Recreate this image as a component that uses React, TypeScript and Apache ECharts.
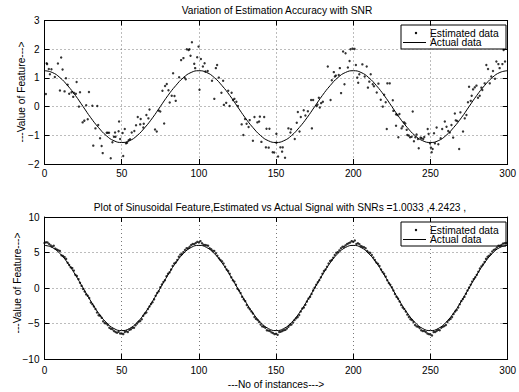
import React, { useEffect, useRef } from 'react';
import * as echarts from 'echarts';

const X_MIN = 0;
const X_MAX = 300;
const X_STEP = 50;
const TOP_Y_MIN = -2;
const TOP_Y_MAX = 3;
const TOP_Y_STEP = 1;
const BOT_Y_MIN = -10;
const BOT_Y_MAX = 10;
const BOT_Y_STEP = 5;

const TOP_TITLE = 'Variation of Estimation Accuracy with SNR';
const BOT_TITLE = 'Plot of Sinusoidal Feature,Estimated vs Actual Signal with SNRs =1.0033 ,4.2423 ,';
const Y_NAME = '---Value of Feature--->';
const X_NAME = '---No of instances--->';
const LEGEND_NAMES = ['Estimated data', 'Actual data'];

// actual signal sampled every 5 instances
const ACTUAL_STEP = 5;
const TOP_ACTUAL = [
  1.25, 1.19, 1.01, 0.73, 0.39, 0, -0.39, -0.73, -1.01, -1.19, -1.25, -1.19, -1.01, -0.73, -0.39, 0, 0.39, 0.73, 1.01, 1.19,
  1.25, 1.19, 1.01, 0.73, 0.39, 0, -0.39, -0.73, -1.01, -1.19, -1.25, -1.19, -1.01, -0.73, -0.39, 0, 0.39, 0.73, 1.01, 1.19,
  1.25, 1.19, 1.01, 0.73, 0.39, 0, -0.39, -0.73, -1.01, -1.19, -1.25, -1.19, -1.01, -0.73, -0.39, 0, 0.39, 0.73, 1.01, 1.19,
  1.25,
];
const BOT_ACTUAL = [
  6, 5.71, 4.85, 3.53, 1.85, 0, -1.85, -3.53, -4.85, -5.71, -6, -5.71, -4.85, -3.53, -1.85, 0, 1.85, 3.53, 4.85, 5.71,
  6, 5.71, 4.85, 3.53, 1.85, 0, -1.85, -3.53, -4.85, -5.71, -6, -5.71, -4.85, -3.53, -1.85, 0, 1.85, 3.53, 4.85, 5.71,
  6, 5.71, 4.85, 3.53, 1.85, 0, -1.85, -3.53, -4.85, -5.71, -6, -5.71, -4.85, -3.53, -1.85, 0, 1.85, 3.53, 4.85, 5.71,
  6,
];

// estimated data, top panel (instance, value)
const TOP_ESTIMATED = [
  [0.9, 0.44], [1.4, 1.51], [1.7, 1.48], [2.8, 1.31], [3.5, 1.13], [4.5, 1.3], [6.7, 1.03], [8.7, 1.5], [10, 0.56],
  [10.8, 1.71], [11.7, 1.29], [13, 0.53], [13.9, 0.99], [15, 0.76], [16, 0.45], [17.5, 0.5], [18.6, 0.34], [19, 0.48],
  [20.3, 0.45], [20.8, 0.86], [22.3, 0], [23, 0.5], [24.7, -0.55], [25.8, -0.49], [27, 0.05], [28, -0.44], [28.8, 0.51],
  [31, 0.03], [31.6, -1.36], [33, -0.76], [34.2, 0.02], [34.8, -0.64], [36, -1.1], [37, -1.37], [37.7, -1.62],
  [40.3, -0.91], [41, -0.91], [41.8, -0.91], [42.9, -1.8], [44, -1.24], [45, -1.05], [45.7, -0.9], [46, -1.05],
  [48, -0.86], [48.3, -0.52], [49, -1.13], [50.6, -0.92], [51, -1.72], [52, -0.78], [52.8, -1.28], [53.5, -1.26],
  [54.5, -1.17], [55.4, -1.14], [56.5, -0.9], [58.2, -0.85], [59.3, -0.65], [60.4, -0.36], [62, -0.62], [62.3, -0.43],
  [64, -0.73], [64.3, -0.6], [66, -0.29], [67.3, -0.41], [68, -0.1], [71.6, -0.8], [72.7, -0.87], [74, -0.14],
  [75, -0.17], [76.4, 0.55], [77.5, -0.59], [78.1, 0.72], [79.2, 0.79], [80.3, 0.57], [81.1, 0.14], [82.4, 0.38],
  [83.3, 1.16], [84.2, 0.37], [85, 0.2], [87.2, 1.02], [88.5, 1.62], [90, 1.69], [90.7, 1.01], [91.5, 0.95],
  [92.2, 2.0], [93.3, 1.97], [93.9, 2.0], [94.6, 1.77], [95.5, 2.24], [97, 1.49], [97.6, 1.34], [98.9, 1.72],
  [99.8, 2.09], [100.4, 0.59], [101.3, 1.66], [102.6, 1.4], [103.7, 1.51], [104.2, 1.22], [105.7, 1.24], [108.5, 0.9],
  [110, 0.27], [111, 1.34], [111.8, 1.45], [112.9, 1.01], [114.6, 0.48], [115.7, 0.9], [116.2, 0.06], [117.7, 0.13],
  [119, 0.55], [119.9, 0.02], [121.2, 0.48], [122.1, 0.23], [123, 0.27], [124.3, 0.17], [125.3, 0.02], [127.7, -0.62],
  [128.8, -0.99], [129.9, -0.43], [130.9, -0.6], [132.2, -0.71], [132.9, -0.47], [135, -1.19], [136, -0.36],
  [137.9, -0.55], [139, -0.52], [139.5, -0.35], [140.5, -1.23], [142.3, -0.36], [143.4, -1.42], [143.8, -0.77],
  [145.2, -1.43], [145.7, -0.77], [147.8, -1.59], [148.8, -1.6], [150.2, -1.26], [150.2, -0.95], [151.3, -1.74],
  [152.8, -1.42], [153.9, -1.57], [154.3, -1.42], [155.8, -1.78], [158, -0.76], [159.3, -0.9], [159.7, -0.79],
  [162.1, -1.13], [163.4, -0.56], [164.1, -0.19], [165.2, -0.87], [166, -0.36], [167.9, -0.13], [169, -0.31],
  [170.6, -0.16], [172.7, 0.23], [173.2, -0.76], [174, 0.23], [176.2, 0.02], [176.8, 0.07], [177.7, 0.31],
  [178.3, -0.03], [179.2, 0.12], [180.3, 0.17], [183.5, 1.4], [185.3, 0.23], [186.1, 0.92], [187.4, 1.2], [188.1, 1.05],
  [188.7, 1.08], [190.6, 1.1], [191.3, 1.34], [192.1, 0.47], [193.4, 1.92], [194.3, 0.78], [195, 1.86], [196.5, 1.36],
  [197.6, 1.59], [198.2, 2.0], [199.5, 2.02], [200.8, 2.01], [201.7, 1.45], [202.6, 1.01], [203.2, 0.83],
  [203.9, 1.13], [205.9, 1.47], [207.4, 1.05], [208.7, 1.4], [209.5, 0.66], [210.4, 0.87], [211.3, 1.13],
  [212.6, 0.78], [213.4, 0.71], [215.2, 0.49], [216.3, 0.8], [217.8, 0.24], [219.1, 0], [220, 0.41], [221, 0.15],
  [221.7, -0.78], [222.1, 0.81], [223.6, 0.81], [225.6, 0.22], [226, -0.15], [227.7, -0.27], [227.7, -0.67],
  [228.6, -0.29], [229.2, -1.07], [229.9, -0.26], [231.3, -0.76], [232, -0.69], [232.9, -0.55], [233.7, -0.59],
  [234.6, -0.81], [235, -0.99], [235.9, -1.01], [236.8, -1.07], [237.8, -1.05], [238.5, -0.17], [239.3, -1.21],
  [240.2, -1.07], [241, -0.97], [241.9, -1.13], [242.4, -1.45], [243.6, -1.08], [244.2, -1.1], [245.3, -1.13],
  [246, -1.06], [248.2, -0.78], [248.8, -0.95], [249.7, -1.28], [250.3, -1.43], [250.8, -1.59], [251.4, -1.48],
  [252.3, -0.93], [252.9, -1.28], [254, -0.73], [255.1, -1.31], [256.6, -1.1], [257.6, -0.78], [259.3, -0.52],
  [260.4, -0.7], [261.5, -0.85], [262.5, -0.9], [263.6, -0.64], [264.7, -1.08], [265.8, -0.24], [266.4, -0.48],
  [267.3, -0.5], [268.6, -1.48], [269.4, -0.2], [271.1, -0.87], [272.2, -0.41], [273.3, -0.29], [274.3, 0.15],
  [275, 0.69], [276.1, 0.2], [276.7, 0.38], [277.6, 0.6], [278.7, 0.67], [279.8, 0.73], [280.8, 0.31], [281.9, 0.38],
  [283, 0.66], [283.6, 0.58], [285.1, 0.81], [286.2, 1.45], [287.3, 1.31], [288.4, 0.81], [289.4, 1.05],
  [290.5, 1.24], [291.8, 0.97], [292.7, 1.57], [294, 1.48], [294.8, 1.34], [296.6, 1.48], [297.4, 1.97],
  [298.3, 1.57],
];

// estimated data, bottom panel: odd instances 1, 3, ..., 299
const BOT_EST_ODD = [
  6.45, 6.2, 5.85, 5.55, 5.3, 4.6, 4.35, 3.55, 2.9, 2.45, 1.7, 0.75, -0.15, -0.9, -1.4, -2.3, -2.95, -3.85, -4.2, -4.95,
  -5.2, -5.75, -6.05, -6.3, -6.4,
  -6.5, -6.1, -5.9, -5.6, -5.25, -4.75, -4.4, -3.6, -2.95, -2.25, -1.6, -0.7, 0.1, 0.85, 1.65, 2.2, 3.1, 3.6, 4.4, 4.8,
  5.35, 5.6, 6.05, 6.2, 6.5,
  6.6, 6.1, 6.0, 5.6, 5.25, 4.9, 4.2, 3.75, 3.0, 2.4, 1.5, 0.9, -0.1, -0.7, -1.6, -2.4, -3.0, -3.6, -4.35, -4.8,
  -5.4, -5.6, -6.0, -6.25, -6.5,
  -6.6, -6.15, -5.95, -5.7, -5.2, -4.85, -4.25, -3.8, -2.9, -2.35, -1.5, -0.85, 0.05, 0.8, 1.5, 2.4, 3.0, 3.8, 4.25, 4.95,
  5.3, 5.8, 6.0, 6.3, 6.6,
  6.7, 6.3, 5.9, 5.75, 5.2, 4.95, 4.3, 3.6, 3.1, 2.25, 1.6, 0.7, 0.1, -0.85, -1.5, -2.4, -2.95, -3.75, -4.4, -4.8,
  -5.4, -5.65, -6.05, -6.2, -6.5,
  -6.7, -6.2, -5.9, -5.6, -5.35, -4.8, -4.35, -3.65, -3.1, -2.3, -1.55, -0.8, 0.05, 0.9, 1.5, 2.3, 3.05, 3.65, 4.4, 4.8,
  5.35, 5.7, 5.95, 6.25, 6.35,
];
// estimated data, bottom panel: even instances 0, 2, ..., 298
const BOT_EST_EVEN = [
  6.35, 6.4, 6.0, 5.95, 5.4, 5.2, 4.5, 4.1, 3.25, 2.8, 1.85, 1.25, 0.3, -0.5, -1.1, -2.05, -2.6, -3.45, -3.9, -4.7,
  -5.0, -5.6, -5.8, -6.2, -6.15,
  -6.4, -6.2, -6.2, -5.8, -5.6, -5.0, -4.65, -3.9, -3.45, -2.6, -2.0, -1.1, -0.45, 0.5, 1.1, 2.0, 2.6, 3.45, 3.95, 4.7,
  5.05, 5.6, 5.8, 6.2, 6.35,
  6.4, 6.3, 6.05, 5.95, 5.45, 5.2, 4.55, 3.95, 3.45, 2.6, 2.0, 1.1, 0.45, -0.35, -1.25, -1.85, -2.75, -3.3, -4.1, -4.5,
  -5.15, -5.45, -5.95, -6.05, -6.35,
  -6.45, -6.2, -6.05, -5.9, -5.45, -5.15, -4.5, -4.1, -3.3, -2.75, -1.9, -1.25, -0.35, 0.45, 1.1, 2.0, 2.6, 3.45, 3.95, 4.65,
  5.05, 5.6, 5.8, 6.2, 6.4,
  6.5, 6.2, 6.15, 5.8, 5.6, 5.0, 4.65, 3.95, 3.4, 2.6, 2.0, 1.1, 0.45, -0.35, -1.25, -1.9, -2.75, -3.3, -4.1, -4.5,
  -5.2, -5.45, -5.95, -6.05, -6.4,
  -6.55, -6.2, -6.05, -5.95, -5.45, -5.2, -4.5, -4.1, -3.3, -2.75, -1.85, -1.25, -0.35, 0.45, 1.25, 1.85, 2.75, 3.3, 4.1, 4.55,
  5.15, 5.45, 5.95, 6.05, 6.3,
];

const FONT = '"Liberation Sans", Arial, Helvetica, sans-serif';

const fmt = (v: number) => (v < 0 ? '\u2212' + Math.abs(v) : String(v));

function buildOption() {
  const gridTop = { left: 44.5, right: 9.5, top: 20.5, height: 143.5 };
  const gridBot = { left: 44.5, right: 9.5, top: 217, height: 142 };
  const axisLine = { show: true, onZero: false, lineStyle: { color: '#000', width: 1 } };
  const axisTick = { show: true, inside: true, length: 5, lineStyle: { color: '#000', width: 1 } };
  const label = { color: '#000', fontSize: 10, fontFamily: FONT, formatter: fmt };
  const split = { show: true, lineStyle: { color: '#555', width: 0.8, type: [1, 3] } };

  const xAxes: any[] = [];
  const yAxes: any[] = [];
  [0, 1].forEach((g) => {
    xAxes.push({
      type: 'value', gridIndex: g, min: X_MIN, max: X_MAX, interval: X_STEP, position: 'bottom',
      axisLine, axisTick, axisLabel: { ...label, margin: g === 0 ? 4 : 6 }, splitLine: split,
    });
    xAxes.push({
      type: 'value', gridIndex: g, min: X_MIN, max: X_MAX, interval: X_STEP, position: 'top',
      axisLine, axisTick, axisLabel: { show: false }, splitLine: { show: false },
    });
    const ymin = g === 0 ? TOP_Y_MIN : BOT_Y_MIN;
    const ymax = g === 0 ? TOP_Y_MAX : BOT_Y_MAX;
    const ystep = g === 0 ? TOP_Y_STEP : BOT_Y_STEP;
    yAxes.push({
      type: 'value', gridIndex: g, min: ymin, max: ymax, interval: ystep, position: 'left',
      axisLine, axisTick, axisLabel: { ...label, margin: 5 }, splitLine: split,
    });
    yAxes.push({
      type: 'value', gridIndex: g, min: ymin, max: ymax, interval: ystep, position: 'right',
      axisLine, axisTick, axisLabel: { show: false }, splitLine: { show: false },
    });
  });

  const topLine = TOP_ACTUAL.map((v, i) => [i * ACTUAL_STEP, v]);
  const botLine = BOT_ACTUAL.map((v, i) => [i * ACTUAL_STEP, v]);
  const botEst = [
    ...BOT_EST_EVEN.map((v, i) => [i * 2, v]),
    ...BOT_EST_ODD.map((v, i) => [1 + i * 2, v]),
  ];

  const scatterStyle = { symbol: 'circle', symbolSize: 2.4, itemStyle: { color: '#000' } };
  const lineStyle = { showSymbol: false, smooth: true, lineStyle: { color: '#000', width: 1 } };

  const legendGroup = (top: number) => ({
    type: 'group',
    children: [
      { type: 'rect', shape: { x: 401, y: top, width: 105, height: 24 }, style: { fill: '#fff', stroke: '#000', lineWidth: 1 } },
      { type: 'circle', shape: { cx: 416, cy: top + 8, r: 1.2 }, style: { fill: '#000' } },
      { type: 'text', style: { x: 430, y: top + 8, text: LEGEND_NAMES[0], font: `10.3px ${FONT}`, fill: '#000', verticalAlign: 'middle' } },
      { type: 'line', shape: { x1: 403, y1: top + 17.5, x2: 426, y2: top + 17.5 }, style: { stroke: '#000', lineWidth: 1 } },
      { type: 'text', style: { x: 430, y: top + 17.5, text: LEGEND_NAMES[1], font: `10.3px ${FONT}`, fill: '#000', verticalAlign: 'middle' } },
    ],
  });

  return {
    animation: false,
    backgroundColor: '#fff',
    grid: [gridTop, gridBot],
    xAxis: xAxes,
    yAxis: yAxes,
    series: [
      { type: 'scatter', xAxisIndex: 0, yAxisIndex: 0, data: TOP_ESTIMATED, ...scatterStyle },
      { type: 'line', xAxisIndex: 0, yAxisIndex: 0, data: topLine, ...lineStyle },
      { type: 'scatter', xAxisIndex: 2, yAxisIndex: 2, data: botEst, ...scatterStyle },
      { type: 'line', xAxisIndex: 2, yAxisIndex: 2, data: botLine, ...lineStyle },
    ],
    graphic: [
      { type: 'text', style: { x: 277, y: 10, text: TOP_TITLE, font: `10.2px ${FONT}`, fill: '#000', align: 'center', verticalAlign: 'middle' } },
      { type: 'text', style: { x: 280, y: 207, text: BOT_TITLE, font: `10.2px ${FONT}`, fill: '#000', align: 'center', verticalAlign: 'middle' } },
      { type: 'text', x: 21, y: 92, rotation: Math.PI / 2, style: { x: 0, y: 0, text: Y_NAME, font: `10.2px ${FONT}`, fill: '#000', align: 'center', verticalAlign: 'middle' } },
      { type: 'text', x: 17, y: 283, rotation: Math.PI / 2, style: { x: 0, y: 0, text: Y_NAME, font: `10.2px ${FONT}`, fill: '#000', align: 'center', verticalAlign: 'middle' } },
      { type: 'text', style: { x: 276, y: 384, text: X_NAME, font: `10.2px ${FONT}`, fill: '#000', align: 'center', verticalAlign: 'middle' } },
      legendGroup(25),
      legendGroup(222),
    ],
  };
}

export default function App() {
  const ref = useRef<HTMLDivElement>(null);
  useEffect(() => {
    document.body.style.margin = '0';
    if (!ref.current) return;
    const chart = echarts.init(ref.current, undefined, { renderer: 'svg' });
    chart.setOption(buildOption() as any);
    return () => chart.dispose();
  }, []);
  return <div ref={ref} style={{ width: 519, height: 392 }} />;
}
